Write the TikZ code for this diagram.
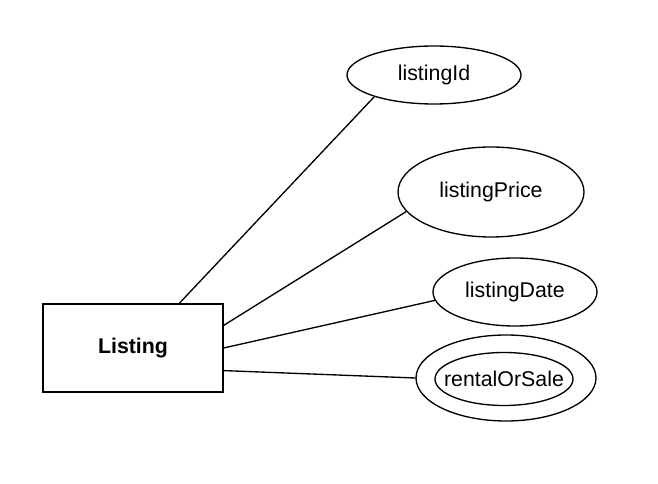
\documentclass[tikz,border=0pt]{standalone}
\usepackage{fontspec}
\setmainfont{Liberation Sans}
\usepackage{tikz}
\usetikzlibrary{shapes.geometric}

\begin{document}
\begin{tikzpicture}[x=0.75pt, y=-0.75pt, line width=1pt,
    font=\fontsize{16}{19}\selectfont,
    entity/.style={draw, rectangle, inner sep=0pt, minimum width=135pt, minimum height=66pt, font=\fontsize{16}{19}\selectfont\bfseries},
    attr/.style={draw, ellipse, inner sep=0pt}]
        \useasboundingbox (0,0) rectangle (658,484);

        % Entity.
        \node[entity] (listing) at (133,348) {Listing};

        % Attributes.
        \node[attr, minimum width=130.5pt, minimum height=43.5pt] (listingId) at (434,75) {listingId};
        \node[attr, minimum width=139.5pt, minimum height=67.5pt] (listingPrice) at (491,192) {listingPrice};
        \node[attr, minimum width=123pt, minimum height=51pt] (listingDate) at (515,292) {listingDate};

        % Multivalued attribute: two ellipses, text on top.
        \node[attr, minimum width=135pt, minimum height=64.5pt] (rentalOuter) at (506,378) {};
        \node[attr, minimum width=103.5pt, minimum height=39.75pt] (rentalInner) at (504,379) {};
        \node (rentalOrSale) at (rentalInner) {rentalOrSale};

        % Links.
        \draw (listing.44) -- (listingId.200);
        \draw (listing.14) -- (listingPrice.193);
        \draw (listing.east) -- (listingDate.186);
        \draw (listing.-14) -- (rentalOuter.west);
\end{tikzpicture}
\end{document}
